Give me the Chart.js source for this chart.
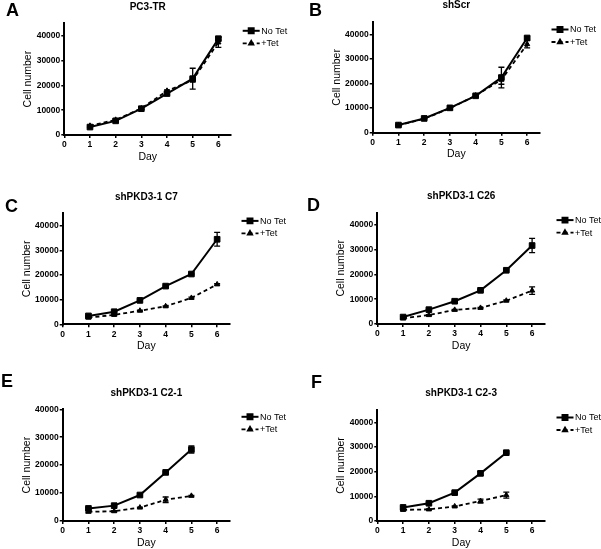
<!DOCTYPE html>
<html><head><meta charset="utf-8">
<script src="https://cdn.jsdelivr.net/npm/chart.js@4.4.1/dist/chart.umd.min.js"></script>
<style>
html,body{margin:0;padding:0;background:#fff;}
body{width:601px;height:549px;position:relative;overflow:hidden;}
canvas{position:absolute;}
</style>
</head><body>
<canvas id="cA"></canvas><canvas id="cB"></canvas><canvas id="cC"></canvas>
<canvas id="cD"></canvas><canvas id="cE"></canvas><canvas id="cF"></canvas>
<script>
// ---- data ----
const days6 = [1, 2, 3, 4, 5, 6];
const days5 = [1, 2, 3, 4, 5];
const seriesNames = ['No Tet', '+Tet'];
const panelLetters = ['A', 'B', 'C', 'D', 'E', 'F'];
const panelTitles = ['PC3-TR', 'shScr', 'shPKD3-1 C7', 'shPKD3-1 C26', 'shPKD3-1 C2-1', 'shPKD3-1 C2-3'];
const xTickValues = [0, 1, 2, 3, 4, 5, 6];
const yTickValues = [0, 10000, 20000, 30000, 40000];
const xAxisTitle = 'Day';
const yAxisTitle = 'Cell number';

const aNoTet = [3200, 5700, 10600, 16700, 22700, 38800];
const aNoTetErr = [300, 300, 400, 400, 4200, 600];
const aTet = [3700, 6100, 10700, 17800, 22100, 37300];
const aTetErr = [200, 300, 300, 400, 800, 2000];

const bNoTet = [3100, 5800, 10100, 15000, 22400, 38500];
const bNoTetErr = [200, 200, 300, 300, 4200, 500];
const bTet = [3000, 5700, 9900, 15100, 21500, 36000];
const bTetErr = [200, 200, 300, 300, 1800, 1500];

const cNoTet = [3400, 5100, 9700, 15500, 20400, 34500];
const cNoTetErr = [200, 200, 300, 300, 300, 2800];
const cTet = [2700, 3800, 5500, 7300, 10700, 16200];
const cTetErr = [200, 200, 200, 200, 300, 300];

const dNoTet = [2800, 5800, 9200, 13600, 21700, 31700];
const dNoTetErr = [200, 300, 300, 300, 300, 2900];
const dTet = [2300, 3600, 5700, 6500, 9400, 13500];
const dTetErr = [200, 200, 200, 200, 300, 1500];

const eNoTet = [4500, 5500, 9300, 17400, 25600];
const eNoTetErr = [300, 200, 300, 300, 1300];
const eTet = [3300, 3500, 4800, 7600, 9000];
const eTetErr = [300, 200, 200, 1000, 200];

const fNoTet = [5500, 7200, 11500, 19300, 27700];
const fNoTetErr = [300, 300, 300, 800, 300];
const fTet = [4500, 4700, 5900, 8100, 10500];
const fTetErr = [300, 200, 200, 800, 1200];

const yMaxes = [45000, 45000, 45000, 45000, 40000, 45000];

// ---- layout (pixel geometry, kept separate from data) ----
const layouts = [
  {id:'cA', cx:0,   cy:0,   cw:300, ch:180, L:64.3,  R:231.2, T:23.3,  B:135,   lx:6,   lb:16},
  {id:'cB', cx:300, cy:0,   cw:301, ch:180, L:372.7, R:540,   T:22,    B:132.7, lx:309, lb:15.5},
  {id:'cC', cx:0,   cy:180, cw:300, ch:185, L:62.7,  R:230,   T:213.4, B:324.3, lx:5,   lb:211.5},
  {id:'cD', cx:300, cy:180, cw:301, ch:185, L:377.3, R:545,   T:212.6, B:324,   lx:307, lb:210.5},
  {id:'cE', cx:0,   cy:365, cw:300, ch:184, L:62.7,  R:230,   T:409.3, B:521,   lx:1,   lb:387},
  {id:'cF', cx:300, cy:365, cw:301, ch:184, L:377.3, R:545,   T:410,   B:521,   lx:311, lb:388}
];
const panelData = [
  {days:days6, s:[aNoTet, aTet], e:[aNoTetErr, aTetErr]},
  {days:days6, s:[bNoTet, bTet], e:[bNoTetErr, bTetErr]},
  {days:days6, s:[cNoTet, cTet], e:[cNoTetErr, cTetErr]},
  {days:days6, s:[dNoTet, dTet], e:[dNoTetErr, dTetErr]},
  {days:days5, s:[eNoTet, eTet], e:[eNoTetErr, eTetErr]},
  {days:days5, s:[fNoTet, fTet], e:[fNoTetErr, fTetErr]}
];

const FAMILY = "'Liberation Sans', Arial, Helvetica, sans-serif";
Chart.defaults.font.family = FAMILY;
Chart.defaults.color = '#000';

const YW = 44, XH = 34;

const decor = {
  id: 'decor',
  afterDatasetsDraw(chart, args, opts) {
    const ctx = chart.ctx;
    const xs = chart.scales.x, ys = chart.scales.y;
    ctx.save();
    chart.data.datasets.forEach(ds => {
      ctx.strokeStyle = '#000';
      ctx.lineWidth = 1.3;
      ctx.setLineDash([]);
      ds.data.forEach((pt, i) => {
        const e = ds.err[i];
        if (!e) return;
        const x = xs.getPixelForValue(pt.x);
        const y1 = ys.getPixelForValue(pt.y + e);
        const y2 = ys.getPixelForValue(pt.y - e);
        ctx.beginPath();
        ctx.moveTo(x, y1); ctx.lineTo(x, y2);
        ctx.moveTo(x - 3, y1); ctx.lineTo(x + 3, y1);
        ctx.moveTo(x - 3, y2); ctx.lineTo(x + 3, y2);
        ctx.stroke();
      });
    });
    ctx.restore();
  },
  afterDraw(chart, args, opts) {
    const ctx = chart.ctx;
    const ca = chart.chartArea;
    const lay = opts.lay;
    ctx.save();
    ctx.fillStyle = '#000';
    ctx.font = 'bold 10px ' + FAMILY;
    ctx.textAlign = 'center';
    ctx.textBaseline = 'middle';
    ctx.fillText(opts.title, (ca.left + ca.right) / 2, ca.top - 16.5);
    ctx.font = 'bold 18px ' + FAMILY;
    ctx.textAlign = 'left';
    ctx.textBaseline = 'alphabetic';
    ctx.fillText(opts.letter, lay.lx - lay.cx, lay.lb - lay.cy);
    const lx = ca.right + 11.5;
    const rows = [ca.top + 7.5, ca.top + 20];
    chart.data.datasets.forEach((ds, i) => {
      const y = rows[i];
      ctx.strokeStyle = '#000';
      ctx.lineWidth = ds.borderWidth;
      ctx.setLineDash(ds.borderDash || []);
      ctx.beginPath(); ctx.moveTo(lx, y); ctx.lineTo(lx + 17, y); ctx.stroke();
      ctx.setLineDash([]);
      Chart.helpers.drawPoint(ctx, {pointStyle: ds.pointStyle, radius: ds.pointRadius - 0.5, rotation: 0, borderWidth: 1}, lx + 8.5, y);
      ctx.fillStyle = '#000';
      ctx.font = '9px ' + FAMILY;
      ctx.textAlign = 'left';
      ctx.textBaseline = 'middle';
      ctx.fillText(ds.label, lx + 18.5, y + 0.5);
    });
    ctx.restore();
  }
};

function makeChart(k) {
  const lay = layouts[k], pd = panelData[k];
  const cv = document.getElementById(lay.id);
  cv.width = lay.cw; cv.height = lay.ch;
  cv.style.left = lay.cx + 'px'; cv.style.top = lay.cy + 'px';
  cv.style.width = lay.cw + 'px'; cv.style.height = lay.ch + 'px';
  const mk = (j) => pd.days.map((d, i) => ({x: d, y: pd.s[j][i]}));
  const axisCommon = {
    grid: {drawOnChartArea: false, drawTicks: true, tickLength: 3, color: '#000', lineWidth: 1.5},
    border: {display: true, color: '#000', width: 2}
  };
  new Chart(cv, {
    type: 'line',
    data: {
      datasets: [
        {label: seriesNames[0], data: mk(0), err: pd.e[0], borderColor: '#000', backgroundColor: '#000',
         borderWidth: 2, pointStyle: 'rect', pointRadius: 4, pointBorderColor: '#000', pointBackgroundColor: '#000',
         pointBorderWidth: 1, tension: 0, clip: false, fill: false},
        {label: seriesNames[1], data: mk(1), err: pd.e[1], borderColor: '#000', backgroundColor: '#000',
         borderWidth: 1.8, borderDash: [4, 3], pointStyle: 'triangle', pointRadius: 3, pointBorderColor: '#000',
         pointBackgroundColor: '#000', pointBorderWidth: 1, tension: 0, clip: false, fill: false}
      ]
    },
    options: {
      responsive: false, animation: false, devicePixelRatio: 1,
      layout: {padding: {left: lay.L - lay.cx - YW, top: lay.T - lay.cy, right: lay.cx + lay.cw - lay.R, bottom: lay.cy + lay.ch - lay.B - XH}},
      plugins: {
        legend: {display: false}, title: {display: false}, tooltip: {enabled: false},
        decor: {title: panelTitles[k], letter: panelLetters[k], lay: lay}
      },
      scales: {
        x: Object.assign({}, axisCommon, {
          type: 'linear', min: 0, max: 6.5,
          afterFit: s => { s.height = XH; },
          afterBuildTicks: s => { s.ticks = xTickValues.map(v => ({value: v})); },
          ticks: {color: '#000', font: {size: 8.5, weight: 'bold'}, padding: 2, maxRotation: 0, autoSkip: false, callback: v => String(v)},
          title: {display: true, text: xAxisTitle, color: '#000', font: {size: 10.5}, padding: {top: 0, bottom: 6}}
        }),
        y: Object.assign({}, axisCommon, {
          type: 'linear', min: 0, max: yMaxes[k],
          afterFit: s => { s.width = YW; },
          afterBuildTicks: s => { s.ticks = yTickValues.map(v => ({value: v})); },
          ticks: {color: '#000', font: {size: 8.5, weight: 'bold'}, padding: 1, autoSkip: false, callback: v => String(v)},
          title: {display: true, text: yAxisTitle, color: '#000', font: {size: 10.5}, padding: {top: 2, bottom: 0}}
        })
      }
    },
    plugins: [decor]
  });
}
for (let k = 0; k < 6; k++) makeChart(k);
</script>
</body></html>
